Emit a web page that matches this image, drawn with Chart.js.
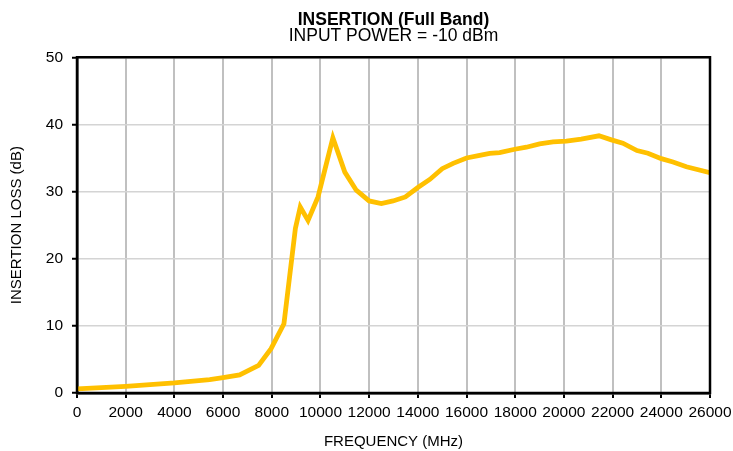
<!DOCTYPE html>
<html>
<head>
<meta charset="utf-8">
<script src="https://cdn.jsdelivr.net/npm/chart.js@4.4.0/dist/chart.umd.min.js"></script>
<style>
  html, body { margin: 0; padding: 0; background: #fff; }
  #wrap { width: 733px; height: 451px; }
</style>
</head>
<body>
<div id="wrap"><canvas id="insertionChart" width="733" height="451"></canvas></div>
<script>
// frequency (MHz) and insertion loss (dB)
var freqMHz = [0, 2000, 4000, 5450, 6000, 6680, 7460, 7970, 8500, 8970, 9170, 9490, 9900,
    10510, 11000, 11470, 12000, 12500, 12980, 13490, 14000, 14490, 15000, 15450, 16000,
    16540, 16950, 17360, 17980, 18460, 19000, 19550, 20100, 20710, 21440, 21950, 22420,
    23000, 23450, 24000, 24480, 25030, 26000];
var lossDb = [0.6, 1.0, 1.5, 2.0, 2.3, 2.7, 4.1, 6.6, 10.3, 24.5, 27.7, 25.7, 29.2,
    38.0, 32.9, 30.2, 28.6, 28.2, 28.6, 29.2, 30.6, 31.8, 33.4, 34.2, 35.0,
    35.4, 35.7, 35.8, 36.3, 36.6, 37.1, 37.4, 37.5, 37.8, 38.3, 37.7, 37.2,
    36.1, 35.7, 34.9, 34.4, 33.7, 32.8];

var xTicks = [0, 2000, 4000, 6000, 8000, 10000, 12000, 14000, 16000, 18000, 20000, 22000, 24000, 26000];
var yTicks = [0, 10, 20, 30, 40, 50];

var chartTitle = 'INSERTION (Full Band)';
var chartSubtitle = 'INPUT POWER = -10 dBm';
var xTitle = 'FREQUENCY (MHz)';
var yTitle = 'INSERTION LOSS (dB)';

Chart.defaults.font.family = '"Liberation Sans", Arial, sans-serif';
Chart.defaults.color = '#000';

// black frame round the plot area
var frame = {
    id: 'frame',
    afterDatasetsDraw: function(chart) {
        var a = chart.chartArea, ctx = chart.ctx;
        ctx.save();
        ctx.strokeStyle = '#000';
        ctx.lineWidth = 2.5;
        ctx.strokeRect(a.left, a.top, a.right - a.left, a.bottom - a.top);
        ctx.restore();
    }
};

var points = freqMHz.map(function(f, i) { return { x: f, y: lossDb[i] }; });

new Chart(document.getElementById('insertionChart').getContext('2d'), {
    type: 'line',
    data: {
        datasets: [{
            data: points,
            borderColor: '#FFC000',
            borderWidth: 4.8,
            pointRadius: 0,
            tension: 0,
            fill: false
        }]
    },
    options: {
        responsive: false,
        animation: false,
        layout: { padding: { left: 0, right: 23, top: 12, bottom: 0 } },
        plugins: {
            legend: { display: false },
            tooltip: { enabled: false },
            title: {
                display: true,
                text: chartTitle,
                fullSize: false,
                font: { size: 17.5, weight: 'bold', lineHeight: 0.9 },
                padding: { top: 0, bottom: 0 }
            },
            subtitle: {
                display: true,
                text: chartSubtitle,
                fullSize: false,
                color: '#000',
                font: { size: 17.5, lineHeight: 1 },
                padding: { top: 0, bottom: 12 }
            }
        },
        scales: {
            x: {
                type: 'linear',
                min: 0,
                max: 26000,
                afterBuildTicks: function(s) { s.ticks = xTicks.map(function(v) { return { value: v }; }); },
                afterFit: function(s) { s.height = 58; s.paddingRight = 0; s.paddingLeft = 0; },
                ticks: {
                    font: { size: 15.5 }, padding: 5, maxRotation: 0, autoSkip: false,
                    callback: function(v) { return String(v); }
                },
                grid: { color: '#c0c0c0', lineWidth: 2, tickColor: '#000', tickLength: 5, tickWidth: 2 },
                border: { color: '#000', width: 2.5 },
                title: { display: true, text: xTitle, font: { size: 15 }, padding: { top: 0, bottom: 0 } }
            },
            y: {
                min: 0,
                max: 50,
                afterBuildTicks: function(s) { s.ticks = yTicks.map(function(v) { return { value: v }; }); },
                afterFit: function(s) { s.width = 77; s.paddingTop = 0; s.paddingBottom = 0; },
                ticks: { font: { size: 15.5 }, padding: 9, callback: function(v) { return String(v); } },
                grid: { color: '#d4d4d4', lineWidth: 1.5, tickColor: '#000', tickLength: 5, tickWidth: 2 },
                border: { color: '#000', width: 2.5 },
                title: { display: true, text: yTitle, font: { size: 15 }, padding: { top: 8, bottom: 0 } }
            }
        }
    },
    plugins: [frame]
});
</script>
</body>
</html>
